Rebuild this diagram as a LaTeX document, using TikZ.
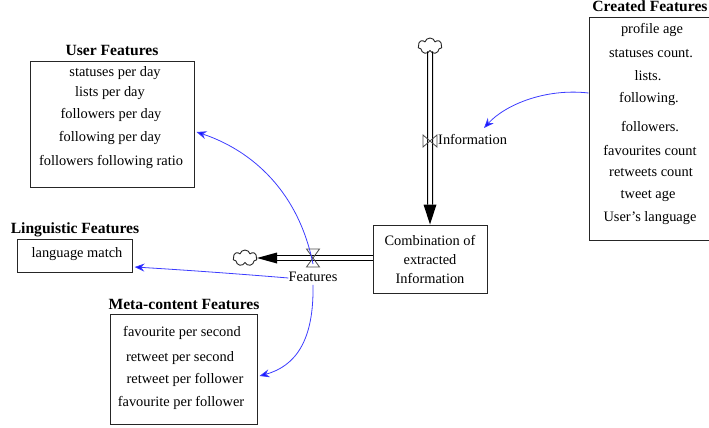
\documentclass[tikz,border=0pt]{standalone}
\usepackage{fontspec}
\setmainfont{Liberation Serif}
\usetikzlibrary{arrows.meta,shapes.symbols,calc}
\begin{document}
\begin{tikzpicture}[x=1pt,y=-1pt,
  txt/.style={inner sep=0pt, text height=10pt, text depth=3.5pt,
    font=\fontsize{14.4}{16}\selectfont},
  ttl/.style={inner sep=0pt, text height=10.5pt, text depth=3.5pt,
    font=\fontsize{15.6}{17}\selectfont\bfseries},
  fbox/.style={draw=black!85, line width=1pt, inner sep=0pt},
  link/.style={draw={rgb,255:red,60;green,60;blue,255}, line width=0.8pt,
    -{Stealth[length=10pt,width=8pt,fill={rgb,255:red,20;green,20;blue,255}]}},
  pipeline/.style={draw=black, line width=1pt},
  sink/.style={cloud, cloud puffs=7, draw=black!85, line width=0.9pt,
    inner sep=0pt, minimum width=24pt, minimum height=16pt, aspect=1.5},
  valve/.style={draw=black!70, line width=0.8pt},
]
\useasboundingbox (0,0) rectangle (709,428);

% ---- stock: combination of extracted information
\node[fbox, minimum width=114pt, minimum height=68pt, align=center,
      font=\fontsize{14.4}{19}\selectfont] (comb) at (430,259)
      {Combination of\\extracted\\Information};

% ---- inflow: cloud -> valve -> stock (double pipe)
\node[sink] (srcT) at (430,46) {};
\coordinate (inBase) at ($(comb.north)+(0,-20)$);
\draw[pipeline, transform canvas={xshift=-2.5pt}] (srcT.south) -- (inBase);
\draw[pipeline, transform canvas={xshift=2.5pt}] (srcT.south) -- (inBase);
\fill[black] (comb.north) -- ++(-6.5,-20) -- ++(13,0) -- cycle;
\coordinate (vIn) at (430,141);
\draw[valve] ($(vIn)+(-7,-6)$) -- ($(vIn)+(7,6)$) -- ($(vIn)+(7,-6)$)
  -- ($(vIn)+(-7,6)$) -- cycle;
\node[txt, anchor=west] (infl) at (438,141) {Information};

% ---- outflow: stock -> valve -> cloud (double pipe)
\node[sink] (srcL) at (245,258) {};
\coordinate (outBase) at (277,258);
\draw[pipeline, transform canvas={yshift=2.5pt}] (comb.west |- outBase) -- (outBase);
\draw[pipeline, transform canvas={yshift=-2.5pt}] (comb.west |- outBase) -- (outBase);
\fill[black] (257,258) -- (277,252.5) -- (277,263.5) -- cycle;
\coordinate (vOut) at (313,258);
\draw[valve] ($(vOut)+(-6.5,-9)$) -- ($(vOut)+(6.5,-9)$) -- ($(vOut)+(-6.5,9)$)
  -- ($(vOut)+(6.5,9)$) -- cycle;
\node[txt] (feat) at (313,278) {Features};

% ---- created features
\node[ttl] (tCre) at (650,8) {Created Features};
\node[fbox, minimum width=124pt, minimum height=222pt] (cre) at (651,129) {};
\node[txt] (c1) at (652,30) {profile age};
\node[txt] (c2) at (651,54) {statuses count.};
\node[txt] (c3) at (648,77) {lists.};
\node[txt] (c4) at (649,99) {following.};
\node[txt] (c5) at (650,128) {followers.};
\node[txt] (c6) at (650,152) {favourites count};
\node[txt] (c7) at (651,173) {retweets count};
\node[txt] (c8) at (648,195) {tweet age};
\node[txt] (c9) at (650,218) {User's language};

% ---- user features
\node[ttl] (tUsr) at (112,52) {User Features};
\node[fbox, minimum width=164pt, minimum height=125pt] (usr) at (112,124.5) {};
\node[txt] (u1) at (115,73) {statuses per day};
\node[txt] (u2) at (110,93) {lists per day};
\node[txt] (u3) at (111,115) {followers per day};
\node[txt] (u4) at (110,138) {following per day};
\node[txt] (u5) at (111,162) {followers following ratio};

% ---- linguistic features
\node[ttl] (tLin) at (75,230) {Linguistic Features};
\node[fbox, minimum width=115pt, minimum height=33pt] (lin) at (74.5,255.5) {};
\node[txt] (l1) at (77,254.5) {language match};

% ---- meta-content features
\node[ttl] (tMet) at (184,306) {Meta-content Features};
\node[fbox, minimum width=147pt, minimum height=110pt] (met) at (183.5,369) {};
\node[txt] (m1) at (182,333) {favourite per second};
\node[txt] (m2) at (180,358) {retweet per second};
\node[txt] (m3) at (185,380) {retweet per follower};
\node[txt] (m4) at (181,403) {favourite per follower};

% ---- information links
\coordinate (creOut) at (cre.west |- 0,93);
\coordinate (inflIn) at (484,128);
\draw[link] (creOut) .. controls (545,88) and (505,105) .. (inflIn);
\coordinate (usrIn) at (usr.east |- 0,132);
\draw[link] ($(vOut)+(0,6)$) .. controls (297,185) and (245,148) .. ($(usrIn)+(2,0)$);
\coordinate (linIn) at (lin.east |- 0,267);
\draw[link] (feat.west) .. controls (240,274) and (185,270) .. ($(linIn)+(2,0)$);
\coordinate (metIn) at (met.east |- 0,376);
\draw[link] (feat.south) .. controls (314,340) and (296,366) .. ($(metIn)+(2,0)$);
\end{tikzpicture}
\end{document}
